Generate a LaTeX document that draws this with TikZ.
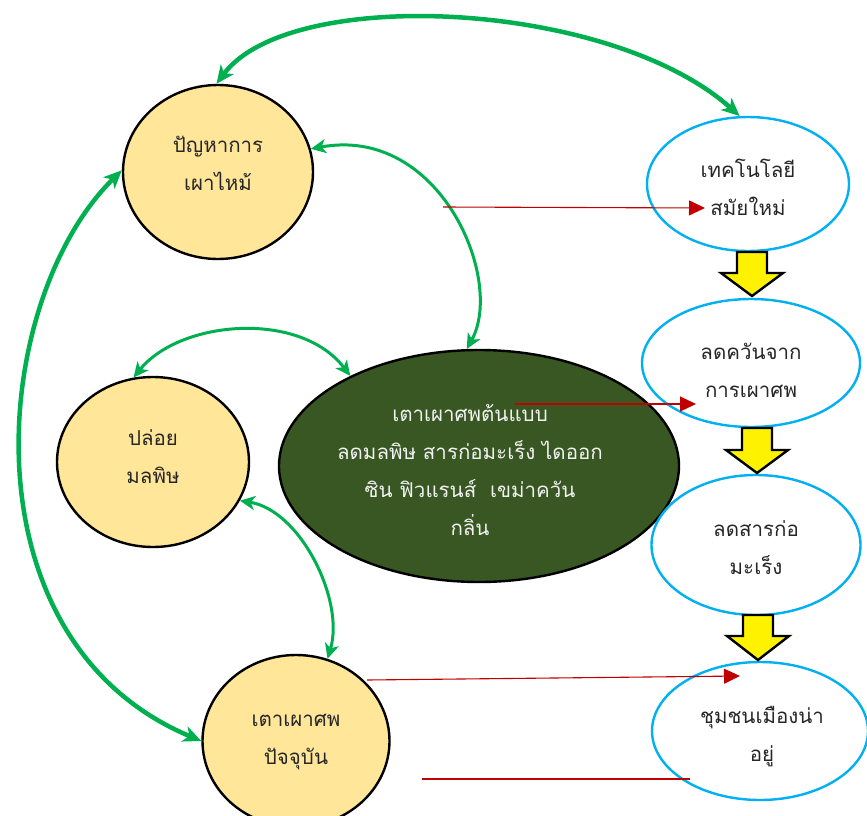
\documentclass[tikz,border=0pt]{standalone}
\usepackage{fontspec}
\newfontfamily\thaifont[Script=Thai]{Loma}
\usetikzlibrary{arrows.meta,shapes.geometric}
\definecolor{nodeyellow}{HTML}{FFE699}
\definecolor{darkgreen}{HTML}{385723}
\definecolor{arrowgreen}{HTML}{00B050}
\definecolor{skyblue}{HTML}{00B0F0}
\definecolor{darkred}{HTML}{C00000}
\definecolor{textgray}{HTML}{262626}
\definecolor{lighttext}{HTML}{F2F2F2}
\newcommand\yellowblock[4]{%
  \draw[blockarrow] (#1-15,#2) -- (#1+15,#2) -- (#1+15,#3) -- (#1+31,#3) -- (#1,#4) -- (#1-31,#3) -- (#1-15,#3) -- cycle;}
\begin{document}
\begin{tikzpicture}[x=1pt,y=-1pt,
  thai/.style={font=\thaifont\fontsize{20.5}{38}\selectfont, align=center, inner sep=0pt},
  darktext/.style={thai, text=textgray},
  lighttxt/.style={thai, text=lighttext},
  warmnode/.style={ellipse, draw=black, line width=2.4pt, fill=nodeyellow, inner sep=0pt},
  coolnode/.style={ellipse, draw=skyblue, line width=2.4pt, fill=white, inner sep=0pt},
  corenode/.style={ellipse, draw=black, line width=2.4pt, fill=darkgreen, inner sep=0pt},
  bigloop/.style={draw=arrowgreen, line width=4.5pt, {Stealth[length=18pt,width=16pt,inset=5pt]}-{Stealth[length=18pt,width=16pt,inset=5pt]}},
  loop/.style={draw=arrowgreen, line width=3pt, {Stealth[length=15pt,width=14pt,inset=4pt]}-{Stealth[length=15pt,width=14pt,inset=4pt]}},
  redline/.style={draw=darkred, line width=1.1pt},
  redarrow/.style={redline, -{Triangle[length=16pt,width=15pt]}},
  blockarrow/.style={draw=black, line width=2.4pt, fill=yellow, line join=miter}]
\useasboundingbox (0,0) rectangle (867,816);
\clip (0,0) rectangle (867,816);

% nodes
\node[warmnode, minimum width=190pt, minimum height=174pt] (burn) at (218,172) {};
\node[warmnode, minimum width=192pt, minimum height=170pt] (toxic) at (153,462) {};
\node[warmnode, minimum width=187pt, minimum height=172pt] (current) at (296,741) {};
\node[corenode, minimum width=400pt, minimum height=232pt] (proto) at (479,466) {};
\node[coolnode, minimum width=202pt, minimum height=134pt] (tech) at (748,184) {};
\node[coolnode, minimum width=218pt, minimum height=128pt] (smoke) at (751,363) {};
\node[coolnode, minimum width=209pt, minimum height=140pt] (carcin) at (756,545) {};
\node[coolnode, minimum width=216pt, minimum height=138pt] (city) at (760,731) {};

% texts
\node[darktext] (burn-t) at (218,163) {ปัญหาการ\\เผาไหม้};
\node[darktext] (toxic-t) at (153,457) {ปล่อย\\มลพิษ};
\node[darktext] (current-t) at (296,742) {เตาเผาศพ\\ปัจจุบัน};
\node[lighttxt] (proto-t) at (470,470) {เตาเผาศพต้นแบบ\\ลดมลพิษ สารก่อมะเร็ง ไดออก\\ซิน ฟิวแรนส์\ \ เขม่าควัน\\กลิ่น};
\node[darktext] (tech-t) at (748,187) {เทคโนโลยี\\สมัยใหม่};
\node[darktext] (smoke-t) at (751,370) {ลดควันจาก\\การเผาศพ};
\node[darktext] (carcin-t) at (756,548) {ลดสารก่อ\\มะเร็ง};
\node[darktext] (city-t) at (762,737) {ชุมชนเมืองน่า\\อยู่};

% yellow block arrows
\yellowblock{752}{252}{273}{296}
\yellowblock{757}{428}{450}{473}
\yellowblock{758}{615}{636}{660}

% green double arrows
\draw[bigloop] (burn.91) .. controls (290,-15) and (610,0) .. (tech.97);
\draw[bigloop] (burn.179) .. controls (-10,300) and (-40,640) .. (current.180);
\draw[loop] (burn.14) .. controls (440,125) and (505,280) .. (proto.96);
\draw[loop] (toxic.103) .. controls (180,320) and (300,310) .. (proto.145);
\draw[loop] (toxic.-24) .. controls (300,510) and (345,600) .. (current.69);

% red lines
\coordinate (r1s) at (443,207); \coordinate (r1e) at (705,208);
\coordinate (r2s) at (515,404); \coordinate (r2e) at (696,404);
\coordinate (r3s) at (367,680); \coordinate (r3e) at (740,676);
\coordinate (r4s) at (422,779); \coordinate (r4e) at (690,779);
\draw[redarrow] (r1s) -- (r1e);
\draw[redarrow] (r2s) -- (r2e);
\draw[redarrow] (r3s) -- (r3e);
\draw[redline] (r4s) -- (r4e);
\end{tikzpicture}
\end{document}
